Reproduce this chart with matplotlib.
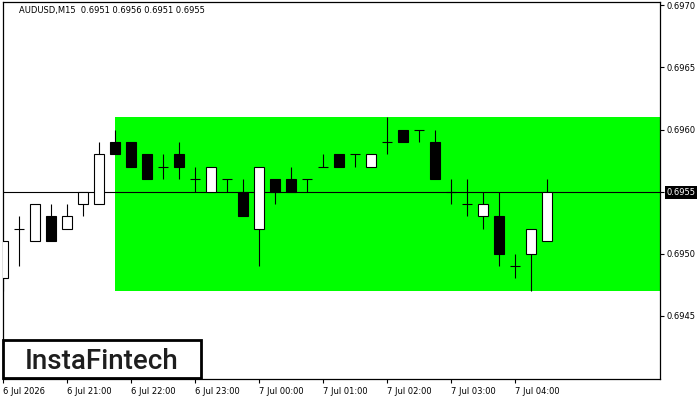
import matplotlib
matplotlib.use("Agg")
from matplotlib import pyplot as plt
from matplotlib.patches import Rectangle

# AUDUSD M15, one candle per 15 minutes starting 6 Jul 20:00
opens = [0.6948, 0.6952, 0.6951, 0.6953, 0.6952, 0.6954, 0.6954, 0.6959, 0.6959, 0.6958,
         0.6957, 0.6958, 0.6956, 0.6955, 0.6956, 0.6955, 0.6952, 0.6956, 0.6956, 0.6956,
         0.6957, 0.6958, 0.6958, 0.6957, 0.6959, 0.6960, 0.6960, 0.6959, 0.6955, 0.6954,
         0.6953, 0.6953, 0.6949, 0.6950, 0.6951]
highs = [0.6951, 0.6953, 0.6954, 0.6954, 0.6954, 0.6955, 0.6959, 0.6960, 0.6959, 0.6958,
         0.6958, 0.6959, 0.6957, 0.6957, 0.6956, 0.6956, 0.6957, 0.6956, 0.6957, 0.6956,
         0.6958, 0.6958, 0.6958, 0.6958, 0.6961, 0.6960, 0.6960, 0.6960, 0.6956, 0.6956,
         0.6955, 0.6955, 0.6950, 0.6952, 0.6956]
lows = [0.6947, 0.6949, 0.6951, 0.6951, 0.6952, 0.6953, 0.6954, 0.6958, 0.6957, 0.6956,
        0.6956, 0.6956, 0.6955, 0.6955, 0.6955, 0.6953, 0.6949, 0.6954, 0.6955, 0.6955,
        0.6957, 0.6957, 0.6957, 0.6957, 0.6958, 0.6959, 0.6959, 0.6956, 0.6954, 0.6953,
        0.6952, 0.6949, 0.6948, 0.6947, 0.6951]
closes = [0.6951, 0.6952, 0.6954, 0.6951, 0.6953, 0.6955, 0.6958, 0.6958, 0.6957, 0.6956,
          0.6957, 0.6957, 0.6956, 0.6957, 0.6956, 0.6953, 0.6957, 0.6955, 0.6955, 0.6956,
          0.6957, 0.6957, 0.6958, 0.6958, 0.6959, 0.6959, 0.6960, 0.6956, 0.6955, 0.6954,
          0.6954, 0.6950, 0.6949, 0.6952, 0.6955]

# pattern zone (rectangle) and current price
zone_start = 7
zone_top = 0.6961
zone_bottom = 0.6947
last_price = 0.6955

time_ticks = [0, 4, 8, 12, 16, 20, 24, 28, 32]
time_labels = ["6 Jul 2026", "6 Jul 21:00", "6 Jul 22:00", "6 Jul 23:00", "7 Jul 00:00",
               "7 Jul 01:00", "7 Jul 02:00", "7 Jul 03:00", "7 Jul 04:00"]
price_ticks = [0.6945, 0.6950, 0.6955, 0.6960, 0.6965, 0.6970]

title = "AUDUSD,M15  0.6951 0.6956 0.6951 0.6955"

plt.rcParams["font.family"] = "DejaVu Sans"

fig = plt.figure(figsize=(7, 4), dpi=100)
ax = fig.add_axes([2.5 / 700, 21 / 400, 657 / 700, 377.3 / 400])

ax.set_xlim(-0.03, 41.03)
ax.set_ylim(0.69399, 0.69703)

ax.add_patch(Rectangle((zone_start, zone_bottom), 50, zone_top - zone_bottom,
                       facecolor="#00ff00", edgecolor="none", zorder=1))
ax.axhline(last_price, color="black", lw=0.8, zorder=2)

lw = 0.8
w = 0.65
for i in range(len(opens)):
    o, h, l, c = opens[i], highs[i], lows[i], closes[i]
    ax.vlines(i, l, h, color="black", lw=lw, zorder=3)
    if o == c:
        ax.hlines(o, i - w / 2, i + w / 2, color="black", lw=lw, zorder=4)
    else:
        fc = "white" if c > o else "black"
        ax.bar(i, abs(c - o), bottom=min(o, c), width=w, facecolor=fc,
               edgecolor="black", lw=lw, zorder=4)

for s in ax.spines.values():
    s.set_linewidth(0.9)

ax.yaxis.tick_right()
ax.set_yticks(price_ticks)
ax.set_yticklabels([f"{p:.4f}" for p in price_ticks])
ax.tick_params(axis="y", direction="out", length=3, width=0.8, pad=2, labelsize=6)
for lab in ax.get_yticklabels():
    if lab.get_text() == f"{last_price:.4f}":
        lab.set_color("white")
        lab.set_bbox(dict(facecolor="black", edgecolor="none", pad=1.2))

ax.set_xticks(time_ticks)
ax.set_xticklabels(time_labels, ha="left")
ax.tick_params(axis="x", direction="out", length=3, width=0.8, pad=3, labelsize=6)

fig.text(19 / 700, 1 - 11 / 400, title, fontsize=6, va="center", ha="left")

# logo box
fig.add_artist(Rectangle((2.5 / 700, 22 / 400), 198 / 700, 38 / 400,
                         transform=fig.transFigure, facecolor="white",
                         edgecolor="black", lw=2, zorder=10))
fig.text(102 / 700, 1 - 369.3 / 400, "InstaFintech", fontsize=20, family="Roboto",
         weight="medium", color="#1e1e1e", ha="center", va="baseline", zorder=11)

fig.savefig("out.png", dpi=100)
